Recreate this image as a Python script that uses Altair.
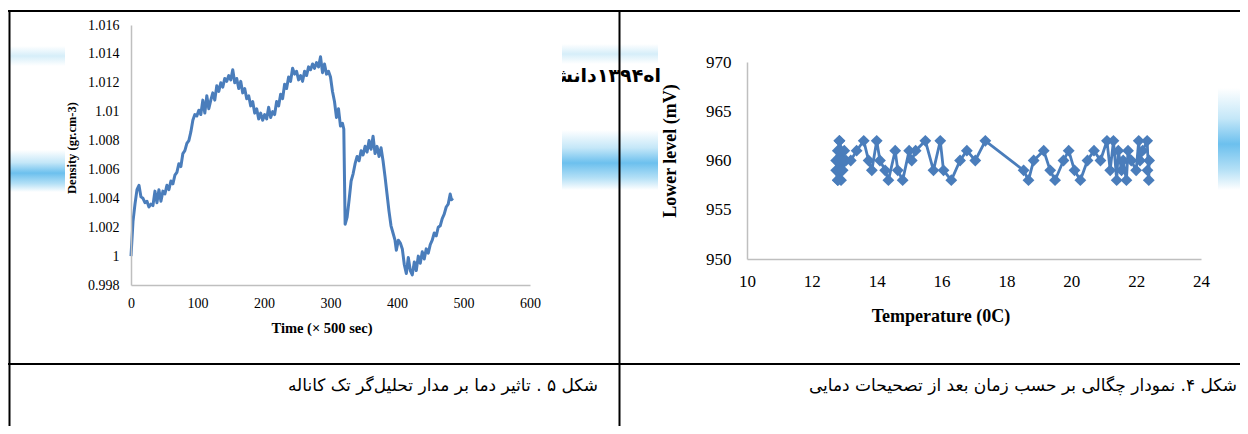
import altair as alt
import pandas as pd

BLUE = "#4a7dbb"

# ---------------- Figure 5 (left panel): density vs time ----------------
time_500s = [0, 3, 6, 9, 12, 15, 18, 21, 24, 27, 30, 33, 36, 39, 42, 45, 48, 51, 54, 57,
             60, 63, 66, 69, 72, 75, 78, 81, 84, 87, 90, 93, 96, 99, 102, 105, 108, 111, 114, 117,
             120, 123, 126, 129, 132, 135, 138, 141, 144, 147, 150, 153, 156, 159, 162, 165, 168, 171, 174, 177,
             180, 183, 186, 189, 192, 195, 198, 201, 204, 207, 210, 213, 216, 219, 222, 225, 228, 231, 234, 237,
             240, 243, 246, 249, 252, 255, 258, 261, 264, 267, 270, 273, 276, 279, 282, 285, 288, 291, 294, 297,
             300, 303, 306, 309, 312, 315, 318, 320, 322, 325, 328, 331, 334, 337, 340, 343, 346, 349, 352, 355,
             358, 361, 364, 367, 370, 373, 376, 379, 382, 385, 388, 391, 394, 397, 399, 402, 405, 408, 411, 414,
             417, 420, 423, 426, 429, 432, 435, 438, 441, 444, 447, 450, 453, 456, 459, 462, 465, 468, 471, 474,
             477, 480, 482, 484]
density_gcm3 = [1.0000, 1.0024, 1.0036, 1.0046, 1.0049, 1.0041, 1.0040, 1.0037, 1.0038, 1.0034,
                1.0036, 1.0035, 1.0045, 1.0037, 1.0046, 1.0038, 1.0045, 1.0043, 1.0049, 1.0046,
                1.0052, 1.0050, 1.0056, 1.0058, 1.0064, 1.0062, 1.0071, 1.0073, 1.0078, 1.0080,
                1.0086, 1.0094, 1.0098, 1.0097, 1.0101, 1.0098, 1.0108, 1.0099, 1.0111, 1.0102,
                1.0108, 1.0113, 1.0108, 1.0118, 1.0114, 1.0120, 1.0117, 1.0123, 1.0121, 1.0125,
                1.0122, 1.0129, 1.0120, 1.0123, 1.0116, 1.0121, 1.0113, 1.0116, 1.0109, 1.0111,
                1.0104, 1.0107, 1.0099, 1.0102, 1.0095, 1.0099, 1.0094, 1.0098, 1.0095, 1.0103,
                1.0096, 1.0100, 1.0098, 1.0107, 1.0104, 1.0112, 1.0109, 1.0119, 1.0116, 1.0124,
                1.0121, 1.0130, 1.0126, 1.0128, 1.0122, 1.0125, 1.0121, 1.0128, 1.0125, 1.0131,
                1.0129, 1.0133, 1.0130, 1.0134, 1.0131, 1.0138, 1.0127, 1.0133, 1.0126, 1.0128,
                1.0124, 1.0114, 1.0107, 1.0096, 1.0102, 1.0090, 1.0092, 1.0088, 1.0022, 1.0027,
                1.0039, 1.0052, 1.0057, 1.0064, 1.0069, 1.0066, 1.0073, 1.0070, 1.0076, 1.0072,
                1.0080, 1.0074, 1.0083, 1.0071, 1.0076, 1.0069, 1.0075, 1.0066, 1.0055, 1.0043,
                1.0031, 1.0021, 1.0016, 1.0011, 1.0004, 1.0011, 1.0009, 1.0005, 0.9994, 0.9988,
                0.9999, 0.9990, 0.9987, 0.9996, 0.9990, 1.0000, 0.9995, 1.0003, 0.9998, 1.0005,
                1.0002, 1.0008, 1.0011, 1.0016, 1.0014, 1.0020, 1.0021, 1.0026, 1.0029, 1.0034,
                1.0036, 1.0043, 1.0039, 1.0040]
time_ticks = [0, 100, 200, 300, 400, 500, 600]
density_ticks = [0.998, 1.0, 1.002, 1.004, 1.006, 1.008, 1.01, 1.012, 1.014, 1.016]

# ---------------- Figure 4 (right panel): lower level vs temperature ----------------
temperature_c = [12.75, 12.8, 12.75, 12.8, 12.85, 12.85, 12.8, 12.9, 12.9, 12.85, 12.95, 12.9, 12.8, 13.0, 12.95, 13.05,
                 13.2, 13.38, 13.6, 13.75, 13.85, 14.0, 14.1, 14.26, 14.36, 14.57, 14.65, 14.8, 15.0, 15.08,
                 15.2, 15.5, 15.75, 15.96, 16.06, 16.3, 16.57, 16.78, 17.04, 17.35, 18.53, 18.68, 18.84, 19.15,
                 19.35, 19.5, 19.76, 19.92, 20.1, 20.28, 20.5, 20.7, 20.9, 21.1, 21.2, 21.3, 21.4, 21.45,
                 21.55, 21.6, 21.7, 21.75, 21.85, 22.0, 22.08, 22.12, 22.2, 22.34, 22.39, 22.4, 22.35]
lower_level_mv = [960, 961, 959, 958, 960, 962, 959, 958, 961, 962, 960, 959, 958, 961, 959, 960,
                  960, 961, 962, 960, 959, 962, 960, 959, 958, 961, 959, 958, 961, 960,
                  961, 962, 959, 962, 959, 958, 960, 961, 960, 962, 959, 958, 960, 961,
                  959, 958, 960, 961, 959, 958, 960, 961, 960, 962, 959, 962, 958, 961,
                  959, 960, 958, 961, 960, 959, 962, 960, 961, 962, 958, 960, 959]
temp_ticks = [10, 12, 14, 16, 18, 20, 22, 24]
mv_ticks = [950, 955, 960, 965, 970]

# ---------------- texts ----------------
left_x_title = "Time (× 500 sec)"
left_y_title = "Density (gr.cm-3)"
right_x_title = "Temperature  (0C)"
right_y_title = "Lower level (mV)"
caption_left = "شکل  ۵ . تاثیر دما بر مدار تحلیل‌گر تک کاناله"
caption_right = "شکل  ۴. نمودار چگالی بر حسب زمان بعد از تصحیحات دمایی"
header_fragment = "اه۱۳۹۴دانشگ"

W, H = 1232, 418


def X(p):
    return p - 8


def Y(p):
    return p - 8


one = pd.DataFrame({"k": [0]})
SERIF = "Liberation Serif"
FA = "DejaVu Sans"

axis_common = dict(grid=False, ticks=False, domainColor="#bfbfbf", domainWidth=1.5,
                   labelColor="black", labelFont=SERIF, labelOverlap=False,
                   labelFlush=False, labelBound=False, title=None, zindex=1)


def band(x1, x2, y1, y2, stops):
    grad = {"gradient": "linear", "x1": 0, "y1": 0, "x2": 0, "y2": 1,
            "stops": [{"offset": o, "color": c} for o, c in stops]}
    return alt.Chart(one).mark_rect(color=grad).encode(
        x=alt.value(X(x1)), x2=alt.value(X(x2)), y=alt.value(Y(y1)), y2=alt.value(Y(y2)))


def white(x1, x2, y1, y2):
    return alt.Chart(one).mark_rect(color="white").encode(
        x=alt.value(X(x1)), x2=alt.value(X(x2)), y=alt.value(Y(y1)), y2=alt.value(Y(y2)))


def rule(x1, x2, y1, y2, w=2):
    return alt.Chart(one).mark_rule(color="black", strokeWidth=w).encode(
        x=alt.value(X(x1)), x2=alt.value(X(x2)), y=alt.value(Y(y1)), y2=alt.value(Y(y2)))


def label(txt, x, y, size, font=SERIF, bold=False, angle=0, align="center"):
    return alt.Chart(pd.DataFrame({"t": [txt]})).mark_text(
        font=font, fontSize=size, fontWeight="bold" if bold else "normal", angle=angle,
        align=align, baseline="middle", color="black").encode(
        text="t:N", x=alt.value(X(x)), y=alt.value(Y(y)))


soft = [(0, "#ffffff"), (0.5, "#d6eef9"), (1, "#ffffff")]
bright = [(0, "#ffffff"), (0.3, "#c4e7f8"), (0.55, "#6cc0ee"), (0.8, "#b4e0f6"), (1, "#ffffff")]
decor = [
    band(10, 65, 46, 66, soft),
    band(10, 65, 150, 192, bright),
    band(562, 658, 44, 64, soft),
    band(562, 658, 130, 190, bright),
    band(1218, 1241, 88, 190, bright),
    label(header_fragment, 661, 76, 19, font=FA, bold=True, align="right"),
    white(65, 562, 12, 362),
]

borders = [
    rule(8, 1241, 11, 11),
    rule(8, 1241, 364, 364),
    rule(9.5, 9.5, 10, 427),
    rule(619.5, 619.5, 10, 427),
]

df_left = pd.DataFrame({"t": time_500s, "d": density_gcm3})
left = alt.Chart(df_left).mark_line(color=BLUE, strokeWidth=3, strokeJoin="round").encode(
    x=alt.X("t:Q", scale=alt.Scale(domain=[0, 600], range=[X(131), X(530)], nice=False, zero=False),
            axis=alt.Axis(orient="bottom", offset=Y(285) - H, values=time_ticks, labelFontSize=14,
                          labelPadding=11, **axis_common)),
    y=alt.Y("d:Q", scale=alt.Scale(domain=[0.998, 1.016], range=[Y(285), Y(25)], nice=False, zero=False),
            axis=alt.Axis(orient="left", offset=-X(131), values=density_ticks, format=".3~f",
                          labelFontSize=14, labelPadding=12, **axis_common)),
)

df_right = pd.DataFrame({"i": list(range(len(temperature_c))), "T": temperature_c, "mv": lower_level_mv})
right = alt.Chart(df_right).mark_line(
    color=BLUE, strokeWidth=2.8,
    point=alt.OverlayMarkDef(shape="diamond", size=140, filled=True, color=BLUE, opacity=1)).encode(
    x=alt.X("T:Q", scale=alt.Scale(domain=[10, 24], range=[X(747), X(1201)], nice=False, zero=False),
            axis=alt.Axis(orient="bottom", offset=Y(259) - H, values=temp_ticks, labelFontSize=17,
                          labelPadding=14, **axis_common)),
    y=alt.Y("mv:Q", scale=alt.Scale(domain=[950, 970], range=[Y(259), Y(62)], nice=False, zero=False),
            axis=alt.Axis(orient="left", offset=-X(747), values=mv_ticks, labelFontSize=17,
                          labelPadding=16, **axis_common)),
    order="i:Q",
)

texts = [
    label(left_x_title, 322, 329, 14.5, bold=True),
    label(left_y_title, 72, 148, 12.5, bold=True, angle=270),
    label(right_x_title, 941, 317, 18, bold=True),
    label(right_y_title, 671, 151, 18, bold=True, angle=270),
    label(caption_left, 598, 386, 17, font=FA, align="right"),
    label(caption_right, 1237, 386, 17, font=FA, align="right"),
]

chart = alt.layer(*decor, *borders, left, right, *texts).resolve_scale(
    x="independent", y="independent"
).properties(
    width=W, height=H, padding=0, autosize=alt.AutoSizeParams(type="none")
).configure_view(stroke=None)

chart.save("out.html", embed_options={"renderer": "svg", "actions": False})
